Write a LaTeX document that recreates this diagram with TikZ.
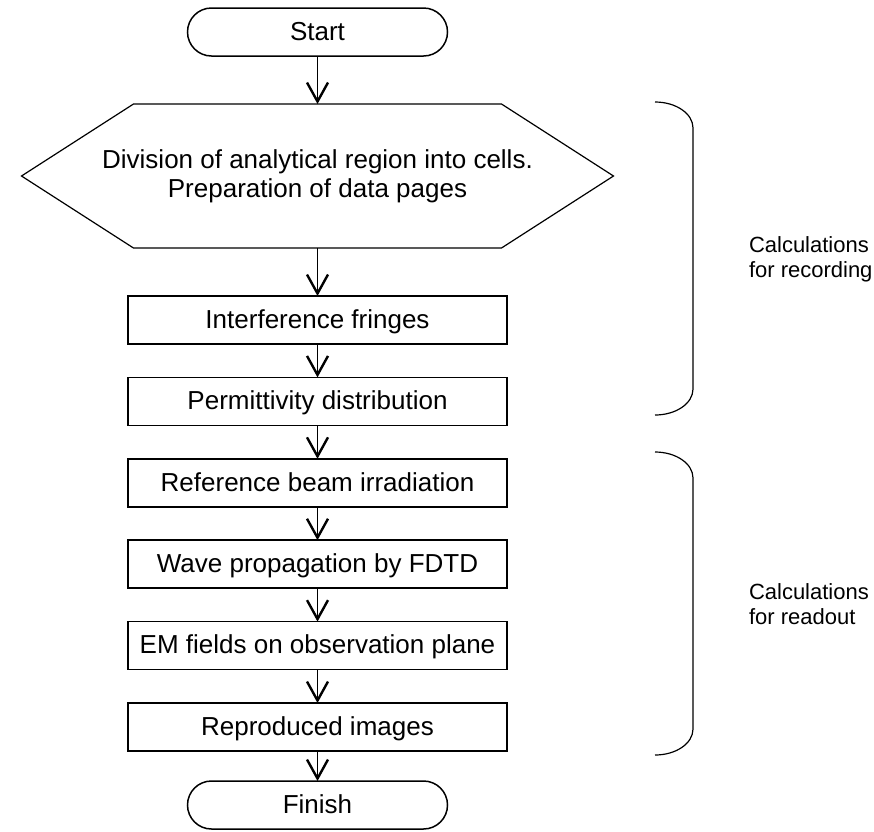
\documentclass[tikz,border=0pt]{standalone}
\usepackage{fontspec}
\setmainfont{Liberation Sans}
\usetikzlibrary{arrows.meta}
\begin{document}
\begin{tikzpicture}[x=1pt,y=-1pt,
  every node/.style={inner sep=0pt, outer sep=0pt},
  boxfont/.style={font=\fontsize{26}{29}\selectfont},
  stepbox/.style={draw, line width=1.5pt, boxfont, minimum width=379pt, minimum height=48pt, text height=18.6pt, text depth=2pt},
  terminal/.style={draw, line width=1.5pt, rounded corners=24pt, boxfont, minimum width=260pt, minimum height=48pt, text height=18.6pt, text depth=2pt},
  prepnode/.style={boxfont, align=center, minimum width=592pt, minimum height=144pt},
  hexline/.style={line width=1.2pt, line join=miter},
  flow/.style={line width=1.3pt, -{Straight Barb[length=19pt,width=21pt,line width=2.4pt,line join=miter]}},
  bracket/.style={line width=1.2pt},
  sidelabel/.style={font=\fontsize{22}{25}\selectfont, align=left, anchor=west}
]
\useasboundingbox (0,0) rectangle (874,831);

% flow chart nodes
\node[terminal] (start) at (317.5,32) {Start};
\node[prepnode] (prep) at (317.5,176) {Division of analytical region into cells.\\Preparation of data pages};
\draw[hexline] (prep.west) -- ([xshift=112pt]prep.north west) -- ([xshift=-112pt]prep.north east)
  -- (prep.east) -- ([xshift=-112pt]prep.south east) -- ([xshift=112pt]prep.south west) -- cycle;
\node[stepbox] (fringe) at (317.5,320) {Interference fringes};
\node[stepbox] (perm) at (317.5,401.4) {Permittivity distribution};
\node[stepbox] (refb) at (317.5,482.8) {Reference beam irradiation};
\node[stepbox] (fdtd) at (317.5,564.2) {Wave propagation by FDTD};
\node[stepbox] (emf) at (317.5,645.6) {EM fields on observation plane};
\node[stepbox] (repro) at (317.5,727) {Reproduced images};
\node[terminal] (finish) at (317.5,805) {Finish};

% connectors
\draw[flow] (start) -- (prep);
\draw[flow] (prep) -- (fringe);
\draw[flow] (fringe) -- (perm);
\draw[flow] (perm) -- (refb);
\draw[flow] (refb) -- (fdtd);
\draw[flow] (fdtd) -- (emf);
\draw[flow] (emf) -- (repro);
\draw[flow] (repro) -- (finish);

% grouping brackets
\draw[bracket] (655,102) .. controls (676,102) and (693,113.6) .. (693,128) -- (693,389)
  .. controls (693,403.4) and (676,415) .. (655,415);
\draw[bracket] (655,452) .. controls (676,452) and (693,463.6) .. (693,478) -- (693,729)
  .. controls (693,743.4) and (676,755) .. (655,755);

\node[sidelabel] (rec) at (749,259.5) {Calculations\\for recording};
\node[sidelabel] (rdo) at (749,604.5) {Calculations\\for readout};
\end{tikzpicture}
\end{document}
